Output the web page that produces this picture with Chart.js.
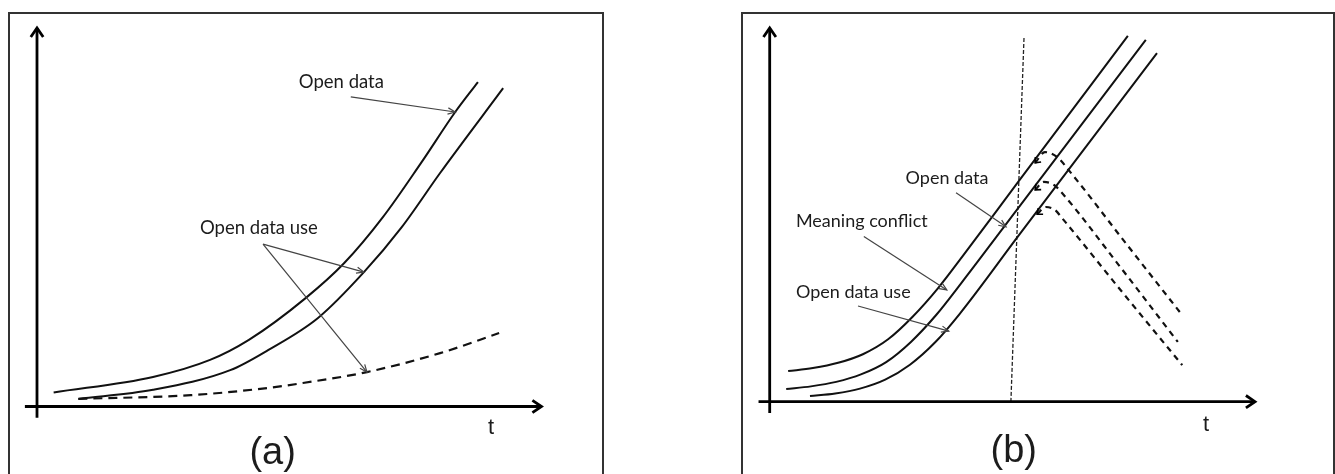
<!DOCTYPE html>
<html>
<head>
<meta charset="utf-8">
<script src="https://cdn.jsdelivr.net/npm/chart.js@4/dist/chart.umd.min.js"></script>
<style>
  body { margin: 0; background: #fff; width: 1335px; height: 474px; overflow: hidden; position: relative; }
  .frame { position: absolute; top: 12px; height: 480px; border: 2px solid #333; box-sizing: border-box; }
  canvas { position: absolute; top: 0; }
</style>
</head>
<body>
<div class="frame" style="left:8px;width:596px"></div>
<div class="frame" style="left:741px;width:594px"></div>
<canvas id="chartA" width="667" height="474" style="left:0"></canvas>
<canvas id="chartB" width="668" height="474" style="left:667px"></canvas>
<script>
// values are on a 0-100 scale for both t and level

// panel (a)
const aOpenT = [3.3, 23.0, 34.3, 42.0, 53.3, 60.9, 68.6, 76.1, 82.9, 87.4];
const aOpen = [3.7, 7.8, 12.3, 17.6, 28.7, 37.9, 50.1, 64.3, 77.8, 85.7];
const aUseT = [8.2, 23.0, 38.3, 45.8, 55.7, 64.8, 72.3, 79.9, 92.4];
const aUse = [2.0, 4.4, 9.6, 14.9, 23.4, 35.5, 47.4, 61.7, 84.1];
const aUse2T = [8.2, 30.5, 45.8, 52.7, 65.4, 79.9, 91.6];
const aUse2 = [2.0, 3.0, 4.9, 6.2, 9.1, 14.1, 19.4];

// panel (b)
const bOpenT = [3.8, 8.9, 14.1, 19.2, 24.4, 29.5, 34.7, 39.8, 51.2, 73.8];
const bOpen = [8.2, 9.0, 10.4, 12.7, 16.7, 22.8, 30.4, 39.0, 58.8, 97.9];
const bConflictT = [3.4, 8.5, 13.7, 18.8, 24.0, 29.1, 34.3, 39.4, 51.2, 77.5];
const bConflict = [3.4, 4.1, 5.3, 7.3, 10.6, 16.0, 23.2, 31.6, 51.8, 96.8];
const bUseT = [8.3, 13.5, 18.6, 23.8, 28.9, 34.1, 39.2, 51.2, 79.8];
const bUse = [1.5, 2.2, 3.5, 5.9, 9.9, 15.9, 23.6, 44.3, 93.3];
const bDrop1T = [54.7, 56.7, 59.2, 61.9, 73.2, 84.5];
const bDrop1 = [63.9, 66.8, 65.5, 61.5, 42.7, 24.0];
const bDrop2T = [54.7, 56.5, 58.6, 60.2, 72.2, 84.1];
const bDrop2 = [56.7, 58.8, 58.0, 55.9, 36.1, 16.0];
const bDrop3T = [55.1, 56.9, 58.8, 60.2, 72.6, 85.0];
const bDrop3 = [50.2, 52.1, 51.3, 49.2, 29.4, 9.8];
const bMarkT = [52.4, 49.7];
const bMark = [97.3, 0];

const pts = (xs, ys) => xs.map((x, i) => ({ x: x, y: ys[i] }));

function solid(xs, ys) {
  return { data: pts(xs, ys), borderColor: '#111', borderWidth: 2, cubicInterpolationMode: 'monotone' };
}
function dashed(xs, ys, dash, hook) {
  return { data: pts(xs, ys), borderColor: '#111', borderWidth: 2.2, borderDash: dash,
    cubicInterpolationMode: 'monotone', hook: hook };
}

function arrowHead(ctx, x0, y0, x1, y1, len, spread) {
  const a = Math.atan2(y1 - y0, x1 - x0);
  ctx.beginPath();
  ctx.moveTo(x1 - len * Math.cos(a - spread), y1 - len * Math.sin(a - spread));
  ctx.lineTo(x1, y1);
  ctx.lineTo(x1 - len * Math.cos(a + spread), y1 - len * Math.sin(a + spread));
  ctx.stroke();
}

// axes with arrows, text notes and pointer arrows
const sketch = {
  id: 'sketch',
  afterDatasetsDraw(chart, args, opts) {
    const ctx = chart.ctx;
    const sx = chart.scales.x, sy = chart.scales.y;
    const X = v => sx.getPixelForValue(v), Y = v => sy.getPixelForValue(v);
    ctx.save();
    ctx.setLineDash([]);

    // axes
    ctx.strokeStyle = '#000';
    ctx.lineWidth = 2.8;
    ctx.lineJoin = 'miter';
    ctx.beginPath();
    ctx.moveTo(X(0), Y(opts.axisBelow));
    ctx.lineTo(X(0), Y(100));
    ctx.moveTo(X(opts.axisLeft), Y(0));
    ctx.lineTo(X(100), Y(0));
    ctx.stroke();
    arrowHead(ctx, X(0), Y(0), X(0), Y(100), 11, 0.6);
    arrowHead(ctx, X(0), Y(0), X(100), Y(0), 11, 0.6);

    // little arrow heads on hooked dashed lines
    chart.data.datasets.forEach((ds, i) => {
      if (!ds.hook) return;
      const el = chart.getDatasetMeta(i).data;
      ctx.lineWidth = 1.6;
      arrowHead(ctx, el[1].x, el[1].y, el[0].x, el[0].y, 6, 0.7);
    });

    // pointer arrows
    ctx.strokeStyle = '#444';
    ctx.lineWidth = 1.2;
    opts.arrows.forEach(a => {
      ctx.beginPath();
      ctx.moveTo(X(a[0]), Y(a[1]));
      ctx.lineTo(X(a[2]), Y(a[3]));
      ctx.stroke();
      arrowHead(ctx, X(a[0]), Y(a[1]), X(a[2]), Y(a[3]), 8, 0.4);
    });

    // notes
    ctx.fillStyle = '#1c1c1c';
    ctx.textBaseline = 'middle';
    opts.notes.forEach(n => {
      ctx.font = n.font;
      ctx.textAlign = n.align;
      ctx.fillText(n.text, X(n.x), Y(n.y));
    });
    ctx.restore();
  }
};

function baseOptions(pad, extra) {
  return {
    responsive: false,
    animation: false,
    events: [],
    layout: { padding: pad },
    elements: { point: { radius: 0 } },
    scales: {
      x: { type: 'linear', display: false, min: 0, max: 100 },
      y: { type: 'linear', display: false, min: 0, max: 100 }
    },
    plugins: { legend: { display: false }, tooltip: { enabled: false }, sketch: extra }
  };
}

new Chart(document.getElementById('chartA'), {
  type: 'scatter',
  data: {
    datasets: [
      solid(aOpenT, aOpen),
      solid(aUseT, aUse),
      dashed(aUse2T, aUse2, [9, 6], false)
    ].map(d => Object.assign(d, { showLine: true }))
  },
  options: baseOptions({ left: 37, right: 125.5, top: 28, bottom: 67.5 }, {
    axisBelow: -3, axisLeft: -2.4,
    arrows: [
      [62.2, 81.8, 82.9, 77.8],
      [44.8, 42.9, 64.8, 35.5],
      [44.8, 42.9, 65.4, 9.1]
    ],
    notes: [
      { text: 'Open data', x: 51.9, y: 85.7, align: 'left', font: '18.5px Lato' },
      { text: 'Open data use', x: 32.3, y: 47.2, align: 'left', font: '18.5px Lato' },
      { text: 't', x: 90.0, y: -5.7, align: 'center', font: '22px "Liberation Sans"' },
      { text: '(a)', x: 46.7, y: -12.4, align: 'center', font: '38px "Liberation Sans"' }
    ]
  }),
  plugins: [sketch]
});

new Chart(document.getElementById('chartB'), {
  type: 'scatter',
  data: {
    datasets: [
      solid(bOpenT, bOpen),
      solid(bConflictT, bConflict),
      solid(bUseT, bUse),
      dashed(bDrop1T, bDrop1, [6, 5], true),
      dashed(bDrop2T, bDrop2, [6, 5], true),
      dashed(bDrop3T, bDrop3, [6, 5], true),
      { data: pts(bMarkT, bMark), borderColor: '#222', borderWidth: 1.3, borderDash: [4, 2] }
    ].map(d => Object.assign(d, { showLine: true }))
  },
  options: baseOptions({ left: 102.7, right: 80, top: 28, bottom: 72.3 }, {
    axisBelow: -3, axisLeft: -2.3,
    arrows: [
      [38.4, 55.9, 48.7, 46.8],
      [19.4, 44.2, 36.5, 29.9],
      [18.2, 25.6, 36.9, 18.9]
    ],
    notes: [
      { text: 'Open data', x: 28.0, y: 59.9, align: 'left', font: '18px Lato' },
      { text: 'Meaning conflict', x: 5.4, y: 48.4, align: 'left', font: '18px Lato' },
      { text: 'Open data use', x: 5.4, y: 29.4, align: 'left', font: '18px Lato' },
      { text: 't', x: 89.9, y: -6.2, align: 'center', font: '22px "Liberation Sans"' },
      { text: '(b)', x: 50.3, y: -13.3, align: 'center', font: '38px "Liberation Sans"' }
    ]
  }),
  plugins: [sketch]
});
</script>
</body>
</html>
